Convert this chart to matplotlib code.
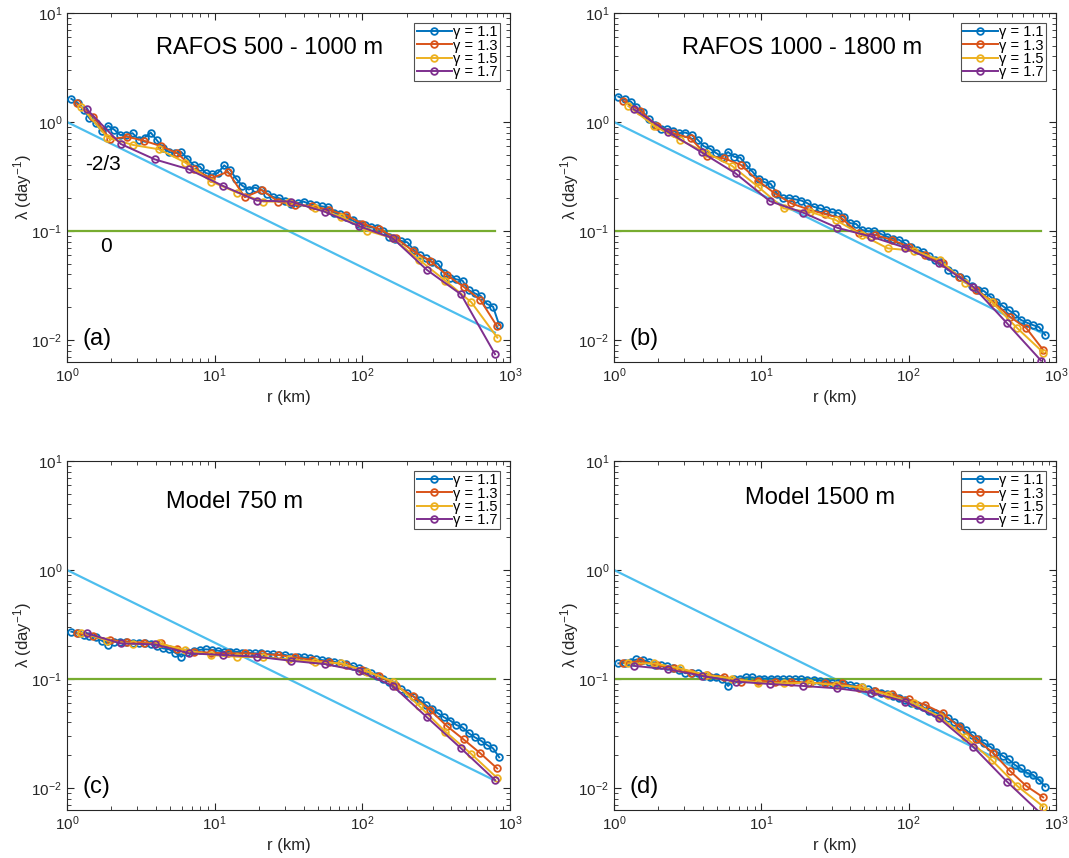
import matplotlib
matplotlib.use("Agg")
import matplotlib.pyplot as plt
from matplotlib.ticker import LogLocator, NullFormatter

plt.rcParams['font.family'] = ['Liberation Sans Narrow', 'Liberation Sans', 'DejaVu Sans']
plt.rcParams['mathtext.default'] = 'regular'

# separation grids r (km) for each gamma
r_g11 = [1.07, 1.18, 1.30, 1.42, 1.57, 1.72, 1.90, 2.09, 2.29, 2.52, 2.78, 3.05, 3.36, 3.69, 4.06, 4.47,
         4.92, 5.41, 5.95, 6.54, 7.20, 7.92, 8.71, 9.58, 10.5, 11.6, 12.8, 14.0, 15.4, 17.0, 18.7, 20.5,
         22.6, 24.9, 27.3, 30.1, 33.1, 36.4, 40.0, 44.0, 48.4, 53.3, 58.6, 64.5, 70.9, 78.0, 85.8, 94.4,
         104, 114, 126, 138, 152, 167, 184, 202, 223, 245, 269, 296, 326, 358, 394, 434, 477, 525, 577,
         635, 698, 768, 845]
r_g13 = [1.16, 1.51, 1.96, 2.55, 3.31, 4.31, 5.60, 7.28, 9.46, 12.3, 16.0, 20.8, 27.0, 35.1, 45.7, 59.4,
         77.2, 100, 130, 170, 220, 287, 373, 485, 630, 819]
r_g15 = [1.25, 1.88, 2.81, 4.22, 6.33, 9.49, 14.2, 21.4, 32.0, 48.1, 72.1, 108, 162, 243, 365, 547, 821]
r_g17 = [1.36, 2.31, 3.93, 6.68, 11.4, 19.3, 32.8, 55.8, 94.8, 161, 274, 466, 792]

# (a) RAFOS 500 - 1000 m
a_g11 = [1.63, 1.50, 1.30, 1.08, 0.97, 0.82, 0.92, 0.85, 0.76, 0.76, 0.79, 0.69, 0.72, 0.80, 0.68, 0.58,
         0.53, 0.52, 0.53, 0.46, 0.40, 0.39, 0.34, 0.33, 0.34, 0.40, 0.36, 0.30, 0.26, 0.24, 0.25, 0.24,
         0.22, 0.205, 0.20, 0.19, 0.175, 0.18, 0.186, 0.177, 0.172, 0.168, 0.165, 0.147, 0.142, 0.135,
         0.125, 0.117, 0.113, 0.108, 0.106, 0.099, 0.089, 0.084, 0.081, 0.0787, 0.067, 0.060, 0.056,
         0.052, 0.0498, 0.0415, 0.0373, 0.036, 0.035, 0.0287, 0.0268, 0.0253, 0.0214, 0.0202, 0.0137]
a_g13 = [1.48, 1.12, 0.693, 0.733, 0.674, 0.602, 0.516, 0.368, 0.304, 0.35, 0.204, 0.238, 0.186, 0.173,
         0.17, 0.156, 0.140, 0.117, 0.104, 0.0857, 0.0656, 0.0535, 0.0394, 0.0308, 0.0233, 0.0133]
a_g15 = [1.38, 0.72, 0.615, 0.561, 0.424, 0.284, 0.225, 0.186, 0.186, 0.161, 0.135, 0.1007, 0.0857,
         0.0542, 0.035, 0.0222, 0.0105]
a_g17 = [1.31, 0.629, 0.454, 0.368, 0.259, 0.190, 0.186, 0.150, 0.111, 0.0857, 0.0439, 0.0262, 0.0074]

# (b) RAFOS 1000 - 1800 m
b_g11 = [1.71, 1.61, 1.54, 1.36, 1.24, 1.06, 0.94, 0.86, 0.86, 0.83, 0.79, 0.80, 0.76, 0.69, 0.60, 0.57,
         0.52, 0.48, 0.53, 0.48, 0.47, 0.40, 0.35, 0.30, 0.28, 0.27, 0.22, 0.20, 0.20, 0.195, 0.19, 0.18,
         0.167, 0.161, 0.156, 0.148, 0.147, 0.135, 0.118, 0.116, 0.102, 0.099, 0.099, 0.094, 0.089, 0.085,
         0.083, 0.077, 0.071, 0.067, 0.064, 0.059, 0.054, 0.052, 0.044, 0.0415, 0.038, 0.036, 0.031,
         0.029, 0.028, 0.025, 0.0225, 0.0205, 0.0188, 0.0172, 0.0153, 0.0144, 0.0137, 0.0131, 0.0111]
b_g13 = [1.56, 1.27, 0.92, 0.787, 0.708, 0.488, 0.464, 0.403, 0.290, 0.222, 0.179, 0.158, 0.143, 0.131,
         0.0953, 0.0919, 0.0827, 0.0718, 0.0602, 0.0505, 0.0381, 0.0287, 0.0225, 0.0164, 0.0128, 0.0081]
b_g15 = [1.40, 0.92, 0.684, 0.523, 0.395, 0.255, 0.161, 0.150, 0.126, 0.0919, 0.0693, 0.0660, 0.0542,
         0.0336, 0.0225, 0.0128, 0.00766]
b_g17 = [1.31, 0.815, 0.527, 0.338, 0.188, 0.147, 0.107, 0.0887, 0.0703, 0.0505, 0.0308, 0.0142, 0.00646]

# (c) Model 750 m
c_g11 = [0.272, 0.262, 0.253, 0.248, 0.241, 0.225, 0.205, 0.22, 0.22, 0.22, 0.212, 0.212, 0.212, 0.209,
         0.201, 0.191, 0.187, 0.174, 0.16, 0.178, 0.182, 0.185, 0.187, 0.185, 0.182, 0.178, 0.178, 0.178,
         0.174, 0.174, 0.172, 0.172, 0.169, 0.169, 0.166, 0.166, 0.16, 0.158, 0.158, 0.155, 0.151, 0.149,
         0.147, 0.144, 0.139, 0.137, 0.132, 0.125, 0.119, 0.113, 0.107, 0.101, 0.0946, 0.0881, 0.0804,
         0.0739, 0.0689, 0.0642, 0.0577, 0.0527, 0.0484, 0.0445, 0.0415, 0.0378, 0.036, 0.0318, 0.0292,
         0.0272, 0.0248, 0.0231, 0.0191]
c_g13 = [0.262, 0.248, 0.228, 0.220, 0.216, 0.212, 0.187, 0.178, 0.174, 0.172, 0.172, 0.169, 0.166, 0.158,
         0.149, 0.144, 0.134, 0.121, 0.107, 0.0863, 0.0698, 0.0520, 0.0371, 0.0279, 0.0208, 0.0151]
c_g15 = [0.266, 0.225, 0.210, 0.212, 0.185, 0.166, 0.160, 0.158, 0.151, 0.144, 0.139, 0.117, 0.0946,
         0.0565, 0.0329, 0.0205, 0.0123]
c_g17 = [0.262, 0.212, 0.208, 0.172, 0.166, 0.160, 0.147, 0.137, 0.119, 0.0863, 0.0445, 0.0231, 0.0118]

# (d) Model 1500 m
d_g11 = [0.139, 0.141, 0.144, 0.151, 0.149, 0.144, 0.134, 0.134, 0.132, 0.125, 0.121, 0.113, 0.114, 0.113,
         0.107, 0.105, 0.1035, 0.101, 0.0863, 0.0993, 0.101, 0.1035, 0.1035, 0.101, 0.101, 0.101, 0.101,
         0.0993, 0.0993, 0.0993, 0.0993, 0.098, 0.098, 0.0966, 0.0946, 0.0925, 0.0912, 0.0899, 0.0881,
         0.0863, 0.0839, 0.0804, 0.0781, 0.0749, 0.0728, 0.0698, 0.0665, 0.0642, 0.0607, 0.0577, 0.055,
         0.0512, 0.0491, 0.0468, 0.0436, 0.0406, 0.0371, 0.034, 0.0306, 0.0279, 0.0257, 0.0239, 0.0215,
         0.0197, 0.0183, 0.0163, 0.0151, 0.0138, 0.0132, 0.0118, 0.0103]
d_g13 = [0.141, 0.146, 0.134, 0.125, 0.114, 0.109, 0.105, 0.0946, 0.0966, 0.0946, 0.0946, 0.0925, 0.0912,
         0.0912, 0.0821, 0.0781, 0.0728, 0.0650, 0.0577, 0.0484, 0.0365, 0.0279, 0.0211, 0.0144, 0.0104,
         0.0082]
d_g15 = [0.139, 0.139, 0.125, 0.109, 0.101, 0.0925, 0.0912, 0.0925, 0.0881, 0.0839, 0.0714, 0.0598,
         0.0451, 0.0292, 0.0181, 0.0104, 0.00674]
d_g17 = [0.132, 0.123, 0.107, 0.0946, 0.090, 0.0863, 0.0821, 0.0749, 0.0620, 0.0436, 0.0239, 0.0114, 0.0058]

# reference lines: slope -2/3 and slope 0
ref_r = [1.0, 790.0]
ref_slope = [1.0, 0.0117]
ref_flat = [0.1, 0.1]

labels = ['\u03b3 = 1.1', '\u03b3 = 1.3', '\u03b3 = 1.5', '\u03b3 = 1.7']
titles = ['RAFOS 500 - 1000 m', 'RAFOS 1000 - 1800 m', 'Model 750 m', 'Model 1500 m']
letters = ['(a)', '(b)', '(c)', '(d)']
panels = [(a_g11, a_g13, a_g15, a_g17), (b_g11, b_g13, b_g15, b_g17),
          (c_g11, c_g13, c_g15, c_g17), (d_g11, d_g13, d_g15, d_g17)]
r_grids = [r_g11, r_g13, r_g15, r_g17]
colors = ['#0072BD', '#D95319', '#EDB120', '#7E2F8E']

W, H = 1069, 858
fig = plt.figure(figsize=(W / 100, H / 100), dpi=100)
boxes = [(67, 13, 443, 349), (614, 13, 442, 349), (67, 461, 443, 349), (614, 461, 442, 349)]
title_pos = [(0.458, 0.90), (0.425, 0.90), (0.377, 0.883), (0.466, 0.894)]

for i, (x0, y0, w, h) in enumerate(boxes):
    ax = fig.add_axes([x0 / W, 1 - (y0 + h) / H, w / W, h / H])
    ax.plot(ref_r, ref_slope, color='#4DBEEE', lw=1.6, zorder=2)
    ax.plot(ref_r, ref_flat, color='#77AC30', lw=1.6, zorder=2)
    handles = []
    for rg, vals, col, lab in zip(r_grids, panels[i], colors, labels):
        ln, = ax.plot(rg, vals, '-o', color=col, lw=1.4, ms=4.8, mfc='none', mew=1.3,
                      label=lab, zorder=3)
        handles.append(ln)
    ax.set_xscale('log')
    ax.set_yscale('log')
    ax.set_xlim(1, 1000)
    ax.set_ylim(0.00628, 10)
    ax.xaxis.set_major_locator(LogLocator(base=10, numticks=10))
    ax.yaxis.set_major_locator(LogLocator(base=10, numticks=10))
    ax.xaxis.set_minor_locator(LogLocator(base=10, subs=range(2, 10), numticks=20))
    ax.yaxis.set_minor_locator(LogLocator(base=10, subs=range(2, 10), numticks=20))
    ax.xaxis.set_minor_formatter(NullFormatter())
    ax.yaxis.set_minor_formatter(NullFormatter())
    ax.tick_params(which='both', direction='in', top=True, right=True, color='#262626',
                   labelsize=11, labelcolor='#262626')
    ax.tick_params(which='major', length=5, width=0.8)
    ax.tick_params(which='minor', length=3, width=0.6)
    for s in ax.spines.values():
        s.set_color('#262626')
        s.set_linewidth(0.8)
    ax.set_xlabel('r (km)', fontsize=12, color='#262626', labelpad=3)
    ax.set_ylabel('\u03bb (day$^{-1}$)', fontsize=12, color='#262626', labelpad=-2)
    tx, ty = title_pos[i]
    ax.text(tx, ty, titles[i], transform=ax.transAxes, ha='center', va='center', fontsize=17)
    ax.text(0.036, 0.066, letters[i], transform=ax.transAxes, ha='left', va='center', fontsize=17)
    if i == 0:
        ax.text(0.041, 0.565, '-2/3', transform=ax.transAxes, ha='left', va='center', fontsize=15)
        ax.text(0.088, 0.33, '0', transform=ax.transAxes, ha='center', va='center', fontsize=15)
    leg = ax.legend(handles=handles, loc='upper right', bbox_to_anchor=(0.977, 0.971),
                    fontsize=10.5, frameon=True, fancybox=False, edgecolor='#262626',
                    handlelength=2.4, handletextpad=0.1, labelspacing=-0.05, borderpad=0.15,
                    borderaxespad=0.0)
    leg.get_frame().set_linewidth(0.8)

fig.savefig('out.png', dpi=100)
